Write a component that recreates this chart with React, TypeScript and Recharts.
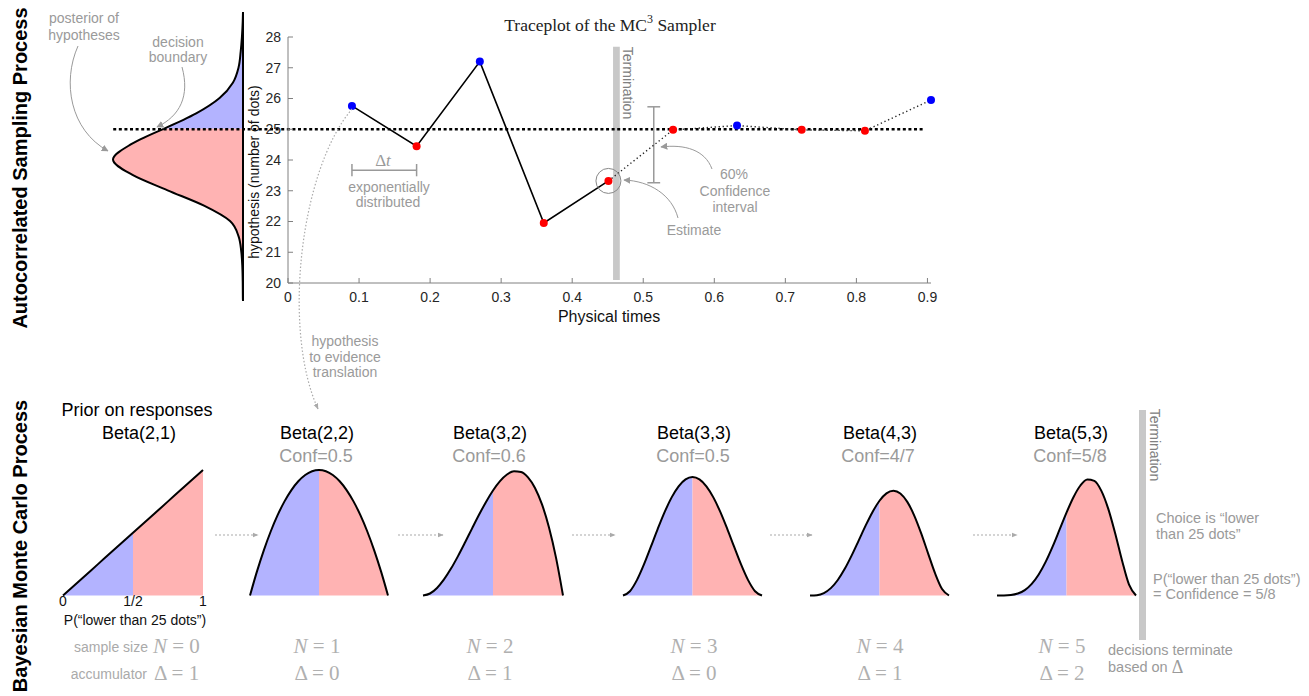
import React from "react";
import {
  ComposedChart,
  AreaChart,
  Area,
  Line,
  Scatter,
  XAxis,
  YAxis,
  ReferenceLine,
  ReferenceArea,
  ReferenceDot,
} from "recharts";

// ---- traceplot data ----
const traceTimes = [0.09, 0.181, 0.27, 0.36, 0.451, 0.542, 0.632, 0.723, 0.812, 0.905];
const traceValues = [25.76, 24.45, 27.2, 21.95, 23.32, 24.98, 25.12, 24.98, 24.95, 25.95];
const traceSides = ["hi", "lo", "hi", "lo", "lo", "lo", "hi", "lo", "lo", "hi"];
const stopIndex = 4; // samples after this one are drawn dotted
const xTicks = [0, 0.1, 0.2, 0.3, 0.4, 0.5, 0.6, 0.7, 0.8, 0.9];
const yTicks = [20, 21, 22, 23, 24, 25, 26, 27, 28];
const boundary = 25;
const confInterval = [23.26, 25.73];

// ---- posterior of hypotheses ----
const postH = [19.4, 19.5, 20, 20.5, 21, 21.5, 22, 22.5, 23, 23.5, 24, 24.5, 25, 25.5, 26, 26.5, 27, 27.5, 28, 28.5, 28.8];
const postDensity = [0, 0.001, 0.002, 0.005, 0.013, 0.034, 0.1, 0.3, 0.58, 0.85, 1, 0.86, 0.61, 0.36, 0.18, 0.078, 0.034, 0.018, 0.008, 0.002, 0];

// ---- beta panels ----
const betaGrid = [0, 0.05, 0.1, 0.15, 0.2, 0.25, 0.3, 0.35, 0.4, 0.45, 0.5, 0.55, 0.6, 0.65, 0.7, 0.75, 0.8, 0.85, 0.9, 0.95, 1];
const pdf21 = [0, 0.1, 0.2, 0.3, 0.4, 0.5, 0.6, 0.7, 0.8, 0.9, 1, 1.1, 1.2, 1.3, 1.4, 1.5, 1.6, 1.7, 1.8, 1.9, 2];
const pdf22 = [0, 0.285, 0.54, 0.765, 0.96, 1.125, 1.26, 1.365, 1.44, 1.485, 1.5, 1.485, 1.44, 1.365, 1.26, 1.125, 0.96, 0.765, 0.54, 0.285, 0];
const pdf32 = [0, 0.0285, 0.108, 0.2295, 0.384, 0.5625, 0.756, 0.9555, 1.152, 1.3365, 1.5, 1.6335, 1.728, 1.7745, 1.764, 1.6875, 1.536, 1.3005, 0.972, 0.5415, 0];
const pdf33 = [0, 0.0677, 0.243, 0.4877, 0.768, 1.0547, 1.323, 1.5527, 1.728, 1.8377, 1.875, 1.8377, 1.728, 1.5527, 1.323, 1.0547, 0.768, 0.4877, 0.243, 0.0677, 0];
const pdf43 = [0, 0.0068, 0.0486, 0.1463, 0.3072, 0.5273, 0.7938, 1.0869, 1.3824, 1.6539, 1.875, 2.0215, 2.0736, 2.0185, 1.8522, 1.582, 1.2288, 0.8291, 0.4374, 0.1286, 0];
const pdf53 = [0, 0.0006, 0.0085, 0.0384, 0.1075, 0.2307, 0.4167, 0.6657, 0.9677, 1.3025, 1.6406, 1.9457, 2.1773, 2.296, 2.2689, 2.0764, 1.7203, 1.2332, 0.6889, 0.2138, 0];
const betaPdfs = [pdf21, pdf22, pdf32, pdf33, pdf43, pdf53];
const betaNames = ["Beta(2,1)", "Beta(2,2)", "Beta(3,2)", "Beta(3,3)", "Beta(4,3)", "Beta(5,3)"];
const confLabels = ["", "Conf=0.5", "Conf=0.6", "Conf=0.5", "Conf=4/7", "Conf=5/8"];
const sampleSizes = [0, 1, 2, 3, 4, 5];
const accumulators = [1, 0, 1, 0, 1, 2];
const priorTicks = [0, 0.5, 1];
const priorTickLabels = ["0", "1/2", "1"];

// layout of the six small panels (pixels), kept apart from the data
const panels = [
  { left: 63, width: 140, yMax: 2, cx: 139 },
  { left: 250, width: 138, yMax: 1.5, cx: 317 },
  { left: 423, width: 140, yMax: 1.792, cx: 490 },
  { left: 623, width: 139, yMax: 1.986, cx: 694 },
  { left: 810, width: 139, yMax: 2.483, cx: 880 },
  { left: 997, width: 139, yMax: 2.484, cx: 1071 },
];
const confX = [0, 316, 489, 693, 878, 1070];
const mathX = [0, 317, 490, 694, 880, 1062];
const arrowSpans = [[215, 258], [398, 443], [572, 615], [770, 812], [973, 1017]];

const BLUE_FILL = "#b3b3ff";
const RED_FILL = "#ffb3b3";
const GREY = "#9a9a9a";
const SANS = "'Liberation Sans', Arial, Helvetica, sans-serif";
const SERIF = "'Liberation Serif', 'DejaVu Serif', serif";
const PAD = 6;

const traceRows = traceTimes.map((t, i) => ({
  t,
  v: traceValues[i],
  side: traceSides[i],
  solid: i <= stopIndex ? traceValues[i] : null,
  dotted: i >= stopIndex ? traceValues[i] : null,
}));

const postRows = postH.map((h, i) => ({
  h,
  up: h >= boundary ? postDensity[i] : null,
  down: h <= boundary ? postDensity[i] : null,
}));

const dotShape = (p: any) => (
  <circle cx={p.cx} cy={p.cy} r={4} fill={p.payload.side === "hi" ? "#0000ff" : "#ff0000"} />
);

// drawn as an ordinary area chart (hypothesis along x), then turned on its side
function Posterior() {
  return (
    <div
      style={{
        position: "absolute",
        left: 109,
        top: 303.45,
        transformOrigin: "0 0",
        transform: "rotate(-90deg)",
      }}
    >
      <AreaChart width={293.05} height={138} data={postRows} margin={{ top: 4, right: 2, bottom: 3, left: 2 }}>
        <XAxis
          type="number"
          dataKey="h"
          domain={[19.4, 28.8]}
          height={1}
          tick={false}
          tickLine={false}
          axisLine={{ stroke: "#000", strokeWidth: 2 }}
        />
        <YAxis type="number" domain={[0, 1]} hide />
        <Area type="monotone" dataKey="up" fill={BLUE_FILL} fillOpacity={1} stroke="#000" strokeWidth={2} isAnimationActive={false} />
        <Area type="monotone" dataKey="down" fill={RED_FILL} fillOpacity={1} stroke="#000" strokeWidth={2} isAnimationActive={false} />
      </AreaChart>
    </div>
  );
}

function Traceplot() {
  const grey = "#999";
  return (
    <div style={{ position: "absolute", left: 0, top: 0 }}>
      <ComposedChart width={1000} height={340} data={traceRows} margin={{ top: 37, right: 69, bottom: 27, left: 0 }}>
        <XAxis
          type="number"
          dataKey="t"
          domain={[0, 0.905]}
          ticks={xTicks}
          height={30}
          tickSize={-5}
          tickMargin={14}
          stroke="#808080"
          tick={{ fill: "#262626", fontSize: 14 }}
        />
        <YAxis
          type="number"
          domain={[20, 28]}
          ticks={yTicks}
          width={288}
          tickSize={-5}
          tickMargin={12}
          stroke="#808080"
          tick={{ fill: "#262626", fontSize: 14 }}
        />
        <ReferenceArea x1={0.4575} x2={0.467} y1={20.1} y2={27.68} fill="#c8c8c8" fillOpacity={1} stroke="none" ifOverflow="visible" />
        <ReferenceLine
          segment={[{ x: -0.246, y: boundary }, { x: 0.896, y: boundary }]}
          stroke="#000"
          strokeWidth={2.5}
          strokeDasharray="3 2.6"
          ifOverflow="visible"
        />
        {/* delta t bracket */}
        <ReferenceLine segment={[{ x: traceTimes[0], y: 23.67 }, { x: traceTimes[1], y: 23.67 }]} stroke={grey} strokeWidth={1.5} ifOverflow="visible" />
        <ReferenceLine segment={[{ x: traceTimes[0], y: 23.47 }, { x: traceTimes[0], y: 23.87 }]} stroke={grey} strokeWidth={1.5} ifOverflow="visible" />
        <ReferenceLine segment={[{ x: traceTimes[1], y: 23.47 }, { x: traceTimes[1], y: 23.87 }]} stroke={grey} strokeWidth={1.5} ifOverflow="visible" />
        {/* confidence interval */}
        <ReferenceLine segment={[{ x: 0.5148, y: confInterval[0] }, { x: 0.5148, y: confInterval[1] }]} stroke={grey} strokeWidth={1.5} ifOverflow="visible" />
        <ReferenceLine segment={[{ x: 0.5058, y: confInterval[0] }, { x: 0.5238, y: confInterval[0] }]} stroke={grey} strokeWidth={1.5} ifOverflow="visible" />
        <ReferenceLine segment={[{ x: 0.5058, y: confInterval[1] }, { x: 0.5238, y: confInterval[1] }]} stroke={grey} strokeWidth={1.5} ifOverflow="visible" />
        <Line dataKey="solid" stroke="#000" strokeWidth={1.6} dot={false} isAnimationActive={false} />
        <Line dataKey="dotted" stroke="#222" strokeWidth={1.4} strokeDasharray="1.3 2.7" dot={false} isAnimationActive={false} />
        <Scatter dataKey="v" shape={dotShape} isAnimationActive={false} />
        <ReferenceDot x={traceTimes[stopIndex]} y={traceValues[stopIndex]} r={12.5} fill="none" stroke="#888" strokeWidth={1} ifOverflow="visible" />
      </ComposedChart>
    </div>
  );
}

function BetaPanel({ i }: { i: number }) {
  const p = panels[i];
  const pdf = betaPdfs[i];
  const first = i === 0;
  const rows = betaGrid.map((x, k) => ({
    x,
    pdf: pdf[k],
    lo: x <= 0.5 ? pdf[k] : null,
    hi: x >= 0.5 ? pdf[k] : null,
  }));
  const curve = first ? "linear" : "monotone";
  return (
    <div style={{ position: "absolute", left: p.left - PAD, top: 466 }}>
      <ComposedChart
        width={p.width + 2 * PAD}
        height={first ? 153.5 : 133.5}
        data={rows}
        margin={{ top: 4, right: PAD, bottom: 4, left: PAD }}
      >
        <XAxis
          type="number"
          dataKey="x"
          domain={[0, 1]}
          hide={!first}
          ticks={priorTicks}
          interval={0}
          tickFormatter={(v: number) => priorTickLabels[priorTicks.indexOf(v)]}
          axisLine={false}
          tickLine={false}
          tickSize={0}
          tickMargin={1}
          height={20}
          tick={{ fill: "#111", fontSize: 14 }}
        />
        <YAxis type="number" domain={[0, p.yMax]} hide />
        <Area type={curve} dataKey="lo" stroke="none" fill={BLUE_FILL} fillOpacity={1} isAnimationActive={false} />
        <Area type={curve} dataKey="hi" stroke="none" fill={RED_FILL} fillOpacity={1} isAnimationActive={false} />
        <Line type={curve} dataKey="pdf" stroke="#000" strokeWidth={2} dot={false} isAnimationActive={false} />
      </ComposedChart>
    </div>
  );
}

function Overlay() {
  const t = (x: number, y: number, s: string, extra: any = {}) => (
    <text x={x} y={y} textAnchor="middle" dominantBaseline="central" fontSize={14} fill={GREY} {...extra}>
      {s}
    </text>
  );
  const arrow = { fill: "none", stroke: GREY, strokeWidth: 1, markerEnd: "url(#ah)" };
  return (
    <svg width={1309} height={696} style={{ position: "absolute", left: 0, top: 0, fontFamily: SANS }}>
      <defs>
        <marker id="ah" viewBox="0 0 10 10" refX="9" refY="5" markerWidth="7" markerHeight="7" orient="auto">
          <path d="M0,0 L10,5 L0,10 z" fill={GREY} />
        </marker>
        <marker id="ahs" viewBox="0 0 10 10" refX="9" refY="5" markerWidth="5" markerHeight="5" orient="auto">
          <path d="M0,1 L10,5 L0,9 z" fill="#aaa" />
        </marker>
      </defs>

      {/* side titles */}
      <text x={20} y={168} transform="rotate(-90 20 168)" textAnchor="middle" dominantBaseline="central" fontSize={20} fontWeight="bold" fill="#000">
        Autocorrelated Sampling Process
      </text>
      <text x={20} y={546} transform="rotate(-90 20 546)" textAnchor="middle" dominantBaseline="central" fontSize={20} fontWeight="bold" fill="#000">
        Bayesian Monte Carlo Process
      </text>

      {/* traceplot title and axis labels */}
      <text x={610} y={25} textAnchor="middle" dominantBaseline="central" fontSize={17.5} fontFamily={SERIF} fill="#222">
        Traceplot of the MC<tspan fontSize={12} dy={-6}>3</tspan>
        <tspan dy={6}> Sampler</tspan>
      </text>
      <text x={609} y={316} textAnchor="middle" dominantBaseline="central" fontSize={16} fill="#111">
        Physical times
      </text>
      <text x={254} y={172} transform="rotate(-90 254 172)" textAnchor="middle" dominantBaseline="central" fontSize={14} fill="#111">
        hypothesis (number of dots)
      </text>
      <text x={628} y={83} transform="rotate(90 628 83)" textAnchor="middle" dominantBaseline="central" fontSize={14} fill="#808080">
        Termination
      </text>

      {/* top annotations */}
      {t(84, 18, "posterior of")}
      {t(84, 35, "hypotheses")}
      {t(178, 42, "decision")}
      {t(178, 57, "boundary")}
      <path d="M78,46 C62,82 70,130 108,151" {...arrow} />
      <path d="M182,67 C190,96 180,116 157,127" {...arrow} />
      <text x={383} y={160} textAnchor="middle" dominantBaseline="central" fontSize={17} fontFamily={SERIF} fill={GREY}>
        Δ<tspan fontStyle="italic">t</tspan>
      </text>
      {t(389, 187, "exponentially")}
      {t(388, 202, "distributed")}
      {t(694, 230, "Estimate")}
      <path d="M678,218 C672,195 650,181 624,180" {...arrow} />
      {t(734, 174, "60%")}
      {t(735, 191, "Confidence")}
      {t(735, 207, "interval")}
      <path d="M712,169 C705,150 685,144 661,147" {...arrow} />
      {t(345, 341, "hypothesis")}
      {t(345, 357, "to evidence")}
      {t(345, 372, "translation")}
      <path d="M352,109 C300,170 282,330 318,409" fill="none" stroke="#aaa" strokeWidth={1.2} strokeDasharray="1.5 2" markerEnd="url(#ahs)" />

      {/* bottom panel texts */}
      <text x={137} y={410} textAnchor="middle" dominantBaseline="central" fontSize={18} fill="#000">
        Prior on responses
      </text>
      {betaNames.map((n, i) => (
        <text key={n + i} x={panels[i].cx} y={433} textAnchor="middle" dominantBaseline="central" fontSize={18} fill="#000">
          {n}
        </text>
      ))}
      {confLabels.map((c, i) =>
        c ? (
          <text key={"c" + i} x={confX[i]} y={456} textAnchor="middle" dominantBaseline="central" fontSize={18} fill={GREY}>
            {c}
          </text>
        ) : null
      )}
      <text x={135} y={620} textAnchor="middle" dominantBaseline="central" fontSize={14} fill="#111">
        P(“lower than 25 dots”)
      </text>
      <text x={148} y={647} textAnchor="end" dominantBaseline="central" fontSize={14} fill="#aaa">
        sample size
      </text>
      <text x={147} y={674} textAnchor="end" dominantBaseline="central" fontSize={14} fill="#aaa">
        accumulator
      </text>
      {sampleSizes.map((n, i) => (
        <text
          key={"n" + i}
          x={i === 0 ? 153 : mathX[i]}
          y={646}
          textAnchor={i === 0 ? "start" : "middle"}
          dominantBaseline="central"
          fontSize={21}
          fontFamily={SERIF}
          fill="#b0b0b0"
        >
          <tspan fontStyle="italic">N</tspan>
          {" = " + n}
        </text>
      ))}
      {accumulators.map((a, i) => (
        <text
          key={"a" + i}
          x={i === 0 ? 154 : mathX[i]}
          y={673}
          textAnchor={i === 0 ? "start" : "middle"}
          dominantBaseline="central"
          fontSize={21}
          fontFamily={SERIF}
          fill="#b0b0b0"
        >
          {"Δ = " + a}
        </text>
      ))}
      {arrowSpans.map(([a, b], i) => (
        <line key={"ar" + i} x1={a} y1={535} x2={b} y2={535} stroke="#aaa" strokeWidth={1.2} strokeDasharray="2 2" markerEnd="url(#ahs)" />
      ))}

      {/* bottom termination */}
      <rect x={1139} y={410} width={7} height={230} fill="#c8c8c8" />
      <text x={1155} y={445} transform="rotate(90 1155 445)" textAnchor="middle" dominantBaseline="central" fontSize={14} fill="#808080">
        Termination
      </text>
      <text x={1156} y={518} dominantBaseline="central" fontSize={14.5} fill={GREY}>
        Choice is “lower
      </text>
      <text x={1156} y={534} dominantBaseline="central" fontSize={14.5} fill={GREY}>
        than 25 dots”
      </text>
      <text x={1153} y={579} dominantBaseline="central" fontSize={14.5} fill={GREY}>
        P(“lower than 25 dots”)
      </text>
      <text x={1153} y={594} dominantBaseline="central" fontSize={14.5} fill={GREY}>
        = Confidence = 5/8
      </text>
      <text x={1108} y={650} dominantBaseline="central" fontSize={14.5} fill={GREY}>
        decisions terminate
      </text>
      <text x={1108} y={667} dominantBaseline="central" fontSize={14.5} fill={GREY}>
        based on <tspan fontFamily={SERIF} fontSize={18}>Δ</tspan>
      </text>
    </svg>
  );
}

export default function App() {
  return (
    <div
      style={{
        position: "absolute",
        left: 0,
        top: 0,
        width: 1309,
        height: 696,
        background: "#fff",
        fontFamily: SANS,
        overflow: "hidden",
      }}
    >
      <Posterior />
      <Traceplot />
      {betaPdfs.map((_, i) => (
        <BetaPanel key={i} i={i} />
      ))}
      <Overlay />
    </div>
  );
}
